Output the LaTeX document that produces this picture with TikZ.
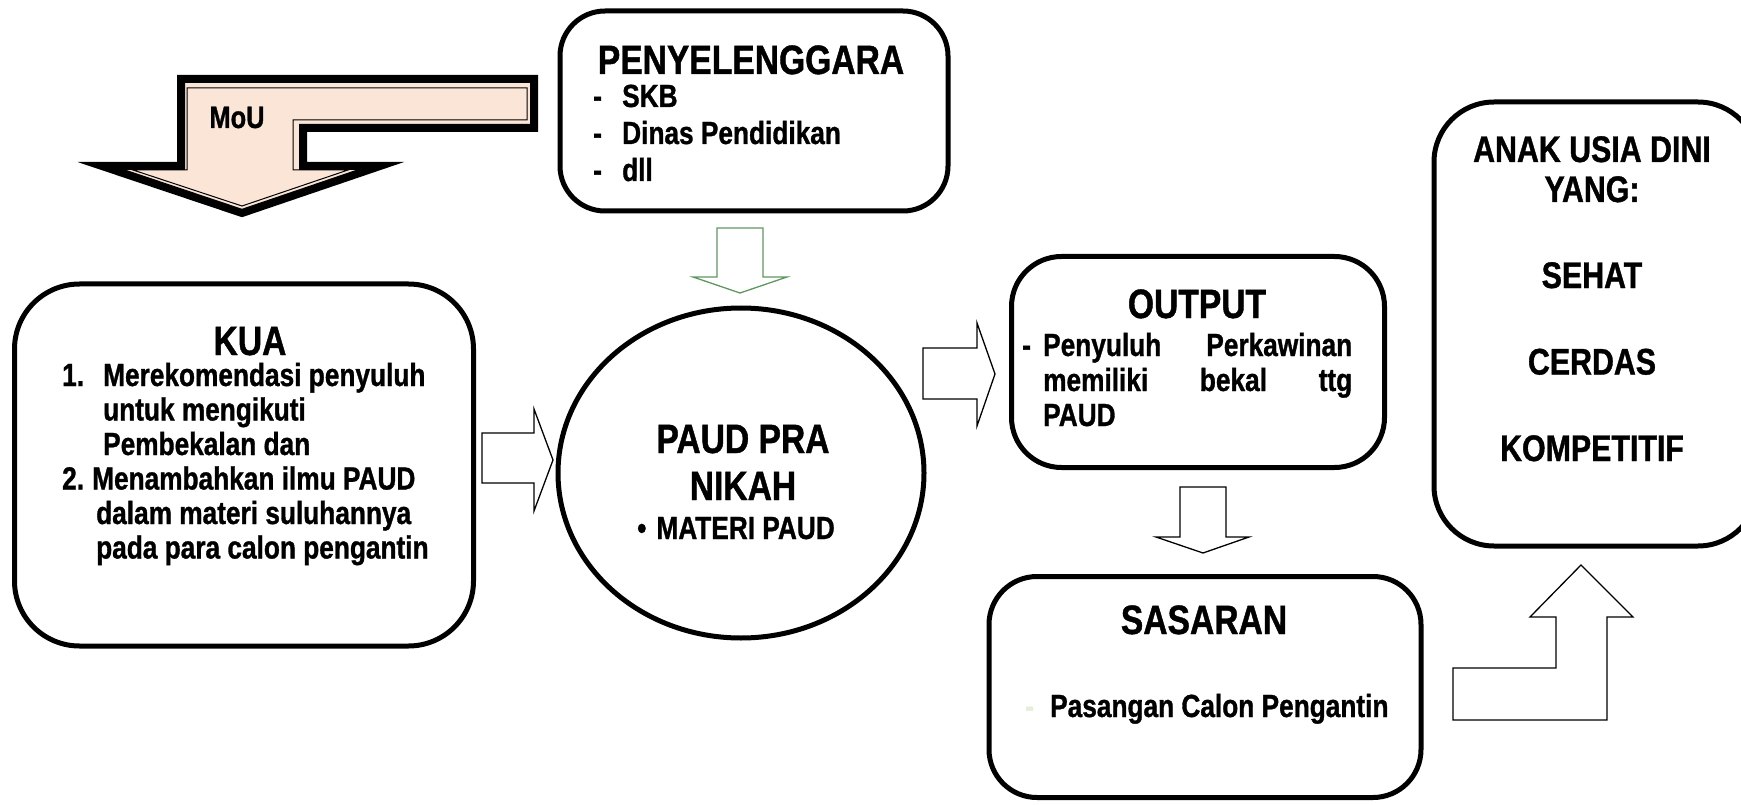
\documentclass[tikz,border=0pt]{standalone}
\usepackage{fontspec}
\setmainfont{Liberation Sans}[FakeStretch=0.82, BoldFeatures={FakeBold=1}]
\usetikzlibrary{shapes.geometric}

\definecolor{peach}{HTML}{FBE5D6}
\definecolor{arrowgreen}{RGB}{96,150,96}
\definecolor{palegreen}{HTML}{E2EFD9}

\tikzset{
	box/.style={draw, line width=5pt, rounded corners=#1, inner sep=0pt},
	box/.default=50pt,
	headtext/.style={anchor=base, inner sep=0pt, font=\bfseries\fontsize{41}{47}\selectfont},
	bodytext/.style={anchor=base west, inner sep=0pt, font=\bfseries\fontsize{32}{35}\selectfont},
	blockarrow/.style={draw, line width=1.3pt, fill=white, line join=miter}
}

\begin{document}
\begin{tikzpicture}[x=1pt, y=-1pt]
	\useasboundingbox (0,0) rectangle (1741,805);

	% MoU arrow
	\filldraw[fill=peach, line width=8pt, line join=miter](534,79) -- (181,79) -- (181,166) -- (102,166) -- (242,213) -- (380,166) -- (303,166) -- (303,128) -- (534,128) -- cycle;
	\draw[line width=1pt](527,88) -- (187,88) -- (187,170) -- (133,170) -- (242,206) -- (348,170) -- (293,170) -- (293,120) -- (527,120) -- cycle;
	\node[bodytext, anchor=base, font=\bfseries\fontsize{31}{35}\selectfont] (mou) at (237,128) {MoU};

	% boxes
	\node[box=45pt, minimum width=388pt, minimum height=200pt] (penyel) at (754,111) {};
	\node[box=65pt, minimum width=459pt, minimum height=362pt] (kua) at (244,465) {};
	\node[draw, ellipse, line width=5pt, minimum width=366pt, minimum height=330pt] (paud) at (741,473) {};
	\node[box=50pt, minimum width=373pt, minimum height=211pt] (output) at (1198,362) {};
	\node[box=48pt, minimum width=432pt, minimum height=221pt] (sasaran) at (1205,687) {};
	\node[box=60pt, minimum width=324pt, minimum height=444pt] (anak) at (1596,324) {};

	% texts
	\node[headtext] (penyeltitle) at (751,74) {PENYELENGGARA};
	\node[bodytext, font=\bfseries\fontsize{32}{37}\selectfont] (penyellist) at (593,107) {\begin{tabular}[t]{@{}l@{}}
		\makebox[29pt][l]{-}SKB\\
		\makebox[29pt][l]{-}Dinas Pendidikan\\
		\makebox[29pt][l]{-}dll
	\end{tabular}};

	\node[headtext] (kuatitle) at (250,355) {KUA};
	\node[bodytext, font=\bfseries\fontsize{32}{34.5}\selectfont] (kualist) at (62,386) {\begin{tabular}[t]{@{}l@{}}
		\makebox[41pt][l]{1.}Merekomendasi penyuluh\\
		\hspace{41pt}untuk mengikuti\\
		\hspace{41pt}Pembekalan dan\\
		\makebox[30pt][l]{2.}Menambahkan ilmu PAUD\\
		\hspace{34pt}dalam materi suluhannya\\
		\hspace{34pt}pada para calon pengantin
	\end{tabular}};

	\node[headtext] (paudtitle) at (743,453) {\begin{tabular}[t]{@{}c@{}}PAUD PRA\\ NIKAH\end{tabular}};
	\node[bodytext, anchor=base] (paudlist) at (736,539) {\textbullet\hspace{10pt}MATERI PAUD};

	\node[headtext] (outputtitle) at (1197,318) {OUTPUT};
	\node[bodytext] (outputlist) at (1022,356) {\begin{tabular}[t]{@{}l@{}}
		\makebox[21pt][l]{-}\makebox[309pt][s]{Penyuluh Perkawinan}\\
		\hspace{21pt}\makebox[309pt][s]{memiliki bekal ttg}\\
		\hspace{21pt}PAUD
	\end{tabular}};

	\node[headtext] (sasarantitle) at (1204,634) {SASARAN};
	\node[bodytext, text=palegreen] (sasarandash) at (1025,717) {-};
	\node[bodytext] (sasaranlist) at (1050,717) {Pasangan Calon Pengantin};

	\node[headtext, font=\bfseries\fontsize{37}{40}\selectfont] (anaktitle) at (1592,162) {\begin{tabular}[t]{@{}c@{}}ANAK USIA DINI\\ YANG:\end{tabular}};
	\node[headtext, font=\bfseries\fontsize{37}{86.5}\selectfont] (anaklist) at (1592,288) {\begin{tabular}[t]{@{}c@{}}SEHAT\\ CERDAS\\ KOMPETITIF\end{tabular}};

	% block arrows
	\draw[blockarrow, draw=arrowgreen](717,228) -- (763,228) -- (763,277) -- (787,277) -- (740,293) -- (693,277) -- (717,277) -- cycle;
	\draw[blockarrow](482,433) -- (534,433) -- (534,409) -- (553,460) -- (534,511) -- (534,483) -- (482,483) -- cycle;
	\draw[blockarrow](923,348) -- (977,348) -- (977,323) -- (995,374) -- (977,426) -- (977,399) -- (923,399) -- cycle;
	\draw[blockarrow](1180,487) -- (1226,487) -- (1226,537) -- (1249,537) -- (1203,553) -- (1156,537) -- (1180,537) -- cycle;
	\draw[blockarrow](1453,668) -- (1556,668) -- (1556,617) -- (1530,617) -- (1581,565) -- (1633,617) -- (1607,617) -- (1607,720) -- (1453,720) -- cycle;
\end{tikzpicture}
\end{document}
